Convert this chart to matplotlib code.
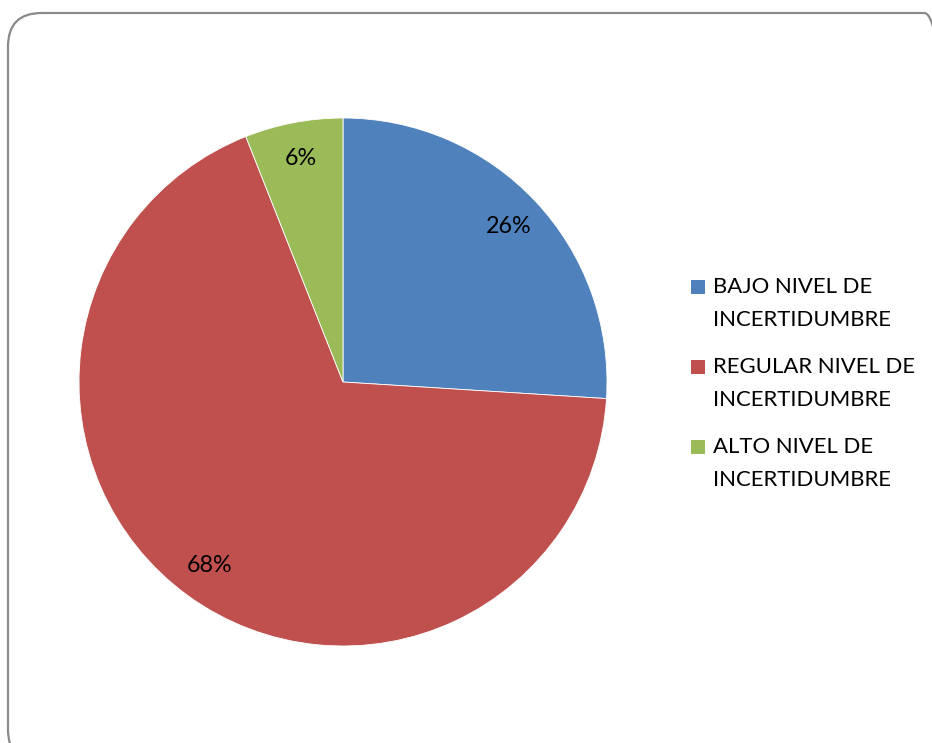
import matplotlib
matplotlib.use("Agg")
import matplotlib.pyplot as plt
from matplotlib.patches import FancyBboxPatch, Rectangle

categories = ["BAJO NIVEL DE\nINCERTIDUMBRE",
              "REGULAR NIVEL DE\nINCERTIDUMBRE",
              "ALTO NIVEL DE\nINCERTIDUMBRE"]
values = [26, 68, 6]
colors = ["#4F81BD", "#C0504D", "#9BBB59"]

plt.rcParams['font.family'] = ['Lato', 'DejaVu Sans']

W, H = 932, 743
fig = plt.figure(figsize=(W / 100, H / 100), dpi=100)
fig.patch.set_facecolor("white")

# chart frame: rounded border running past the right and bottom edges
frame = FancyBboxPatch((8 / W, -20 / H), 950 / W, (H - 13 + 20) / H,
                       boxstyle="round,pad=0,rounding_size=0.036",
                       transform=fig.transFigure, facecolor="none",
                       edgecolor="#8a8a8a", linewidth=1.6, zorder=0,
                       mutation_aspect=W / H)
fig.patches.append(frame)

cx, cy, r = 343, 382, 264
ax = fig.add_axes([(cx - r) / W, (H - cy - r) / H, 2 * r / W, 2 * r / H])
wedges, texts, autotexts = ax.pie(
    values, colors=colors, startangle=90, counterclock=False,
    autopct=lambda p: f"{p:.0f}%", pctdistance=0.86,
    wedgeprops=dict(edgecolor="white", linewidth=0.6),
    textprops=dict(fontsize=16.8, color="black"))
ax.set_xlim(-1, 1)
ax.set_ylim(-1, 1)
ax.set_aspect("equal")
ax.axis("off")

# legend drawn as swatches and two-line labels
sq = 14
top_line = 287
for i, (lab, col) in enumerate(zip(categories, colors)):
    y = top_line + i * 80
    fig.patches.append(Rectangle((691 / W, (H - y - sq / 2) / H), sq / W, sq / H,
                                 transform=fig.transFigure, facecolor=col,
                                 edgecolor="none"))
    lines = lab.split("\n")
    for j, ln in enumerate(lines):
        fig.text(713 / W, (H - (y + j * 33)) / H, ln, fontsize=15.9,
                 ha="left", va="center", color="black")

fig.savefig("out.png", dpi=100, facecolor="white")
